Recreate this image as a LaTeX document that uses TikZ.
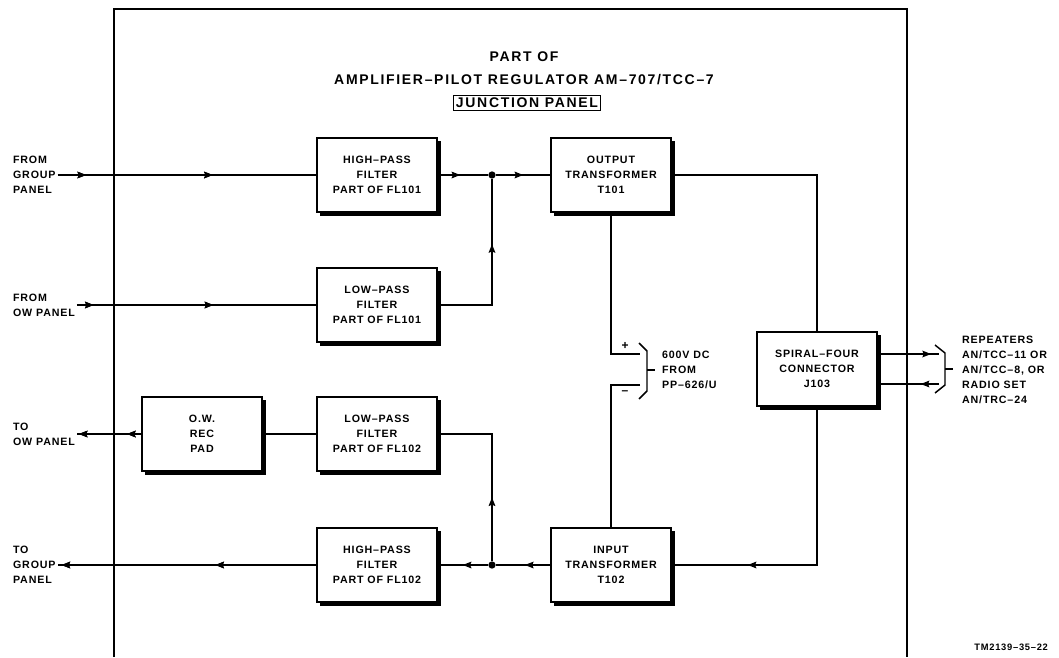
\documentclass[tikz,border=0pt]{standalone}
\usepackage{fontspec}
\setmainfont{Liberation Sans}[LetterSpace=8]
\newfontfamily\widefont{Liberation Sans}[LetterSpace=12, Ligatures=TeX]
\usetikzlibrary{arrows.meta,decorations.markings}
\newcommand{\blockfont}{\bfseries\fontsize{8}{11.25}\selectfont}
\newcommand{\titlefont}{\widefont\bfseries\fontsize{10.5}{11}\selectfont}

\begin{document}
\begin{tikzpicture}[x=0.75pt, y=-0.75pt, line width=1.1pt,
    block/.style={rectangle, draw, line width=1.3pt, minimum width=90pt,
                  minimum height=55.5pt, align=center, font=\blockfont},
    lbl/.style={align=left, font=\blockfont, inner sep=1pt},
    sign/.style={font=\bfseries\fontsize{9}{9}\selectfont, inner sep=0pt},
    dot/.style={circle, fill, inner sep=0pt, minimum size=5.5pt},
    arr/.style={decoration={markings,
                  mark=at position #1 with {\arrow{Stealth[length=6.5pt,width=5pt,inset=1pt]}}},
                postaction={decorate}}]
  \useasboundingbox (0,0) rectangle (1059,657);

  % panel frame, open at the bottom
  \draw (114,657) -- (114,9) -- (907,9) -- (907,657);

  % title
  \node[font=\titlefont] (partof) at (524,57) {PART OF};
  \node[font=\titlefont] (amp)    at (524,80) {AMPLIFIER--PILOT REGULATOR AM--707/TCC--7};
  \node[font=\titlefont, draw, line width=1.1pt, inner sep=2pt] (jp) at (527,103) {JUNCTION PANEL};

  % blocks
  \node[block] (hpf1) at (377,175) {HIGH--PASS\\FILTER\\PART OF FL101};
  \node[block] (lpf1) at (377,305) {LOW--PASS\\FILTER\\PART OF FL101};
  \node[block] (orp)  at (202,434) {O.W.\\REC\\PAD};
  \node[block] (lpf2) at (377,434) {LOW--PASS\\FILTER\\PART OF FL102};
  \node[block] (hpf2) at (377,565) {HIGH--PASS\\FILTER\\PART OF FL102};
  \node[block] (ot)   at (611,175) {OUTPUT\\TRANSFORMER\\T101};
  \node[block] (it)   at (611,565) {INPUT\\TRANSFORMER\\T102};
  \node[block] (sf)   at (817,369) {SPIRAL--FOUR\\CONNECTOR\\J103};

  % heavy shadow edge
  \foreach \b in {hpf1,lpf1,orp,lpf2,hpf2,ot,it,sf}
    \draw[line width=2.4pt] ([shift={(1.2pt,-3pt)}]\b.north east)
      -- ([shift={(1.2pt,-1.2pt)}]\b.south east) -- ([shift={(3pt,-1.2pt)}]\b.south west);

  % outside labels
  \node[lbl, anchor=west] (fromgrp) at (11,175) {FROM\\GROUP\\PANEL};
  \node[lbl, anchor=west] (fromow)  at (11,305) {FROM\\OW PANEL};
  \node[lbl, anchor=west] (toow)    at (11,434) {TO\\OW PANEL};
  \node[lbl, anchor=west] (togrp)   at (11,565) {TO\\GROUP\\PANEL};
  \node[lbl, anchor=west] (dctext)  at (660,370) {600V DC\\FROM\\PP--626/U};
  \node[lbl, anchor=west] (rptext)  at (960,370) {REPEATERS\\AN/TCC--11 OR\\AN/TCC--8, OR\\RADIO SET\\AN/TRC--24};
  \node[lbl, anchor=east, font=\bfseries\fontsize{7}{8}\selectfont] (tm) at (1050,647) {TM2139--35--22};

  % junctions and free ends
  \node[dot] (j1) at (492,175) {};
  \node[dot] (j2) at (492,565) {};
  \coordinate (dcp) at (640,354);
  \coordinate (dcm) at (640,385);
  \coordinate (rp1) at (939,354);
  \coordinate (rp2) at (939,384);

  % transmit side
  \draw[arr=0.11, arr=0.6] (fromgrp.east) -- (hpf1.west);
  \draw[arr=0.07, arr=0.57] (fromow.east) -- (lpf1.west);
  \draw[arr=0.45] (hpf1.east) -- (j1);
  \draw[arr=0.64] (lpf1.east) -| (j1);
  \draw[arr=0.5] (j1) -- (ot.west);
  \draw (ot.east) -| (sf.north);
  \draw[arr=0.87] ([yshift=11.25pt]sf.east) -- (rp1);

  % receive side
  \draw[arr=0.3] (rp2) -- ([yshift=-11.25pt]sf.east);
  \draw[arr=0.75] (sf.south) |- (it.east);
  \draw[arr=0.47] (it.west) -- (j2);
  \draw[arr=0.5] (j2) -- (hpf2.east);
  \draw[arr=0.39, arr=0.985] (hpf2.west) -- (togrp.east);
  \draw[arr=0.35] (j2) |- (lpf2.east);
  \draw (lpf2.west) -- (orp.east);
  \draw[arr=0.22, arr=0.97] (orp.west) -- (toow.east);

  % 600V DC feed
  \draw (ot.south) |- (dcp);
  \draw (dcm) -| (it.north);
  \node[sign] (plus)  at (625,346) {+};
  \node[sign] (minus) at (625,393) {--};
  \draw (639,343) -- (647,351) -- (647,391) -- (639,399);
  \draw (647,370) -- (655,370);

  % repeater brace
  \draw (935,345) -- (945,353) -- (945,385) -- (935,393);
  \draw (945,369) -- (953,369);
\end{tikzpicture}
\end{document}
